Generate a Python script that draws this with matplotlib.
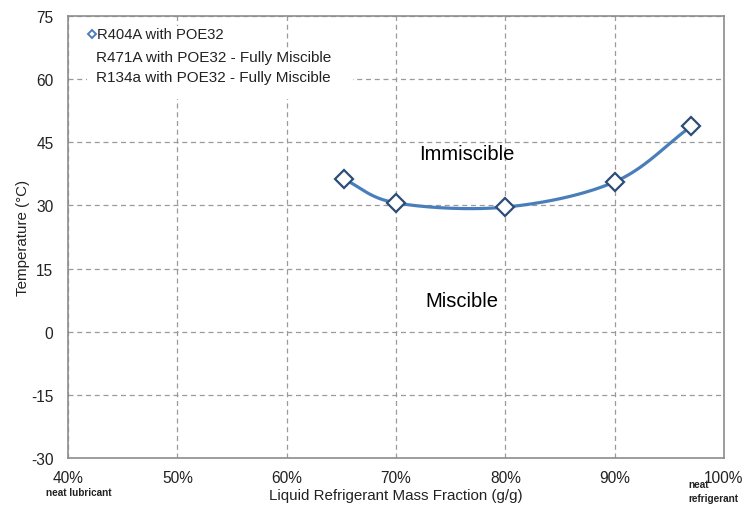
import numpy as np
import matplotlib.pyplot as plt
from matplotlib.patches import Rectangle

plt.rcParams['font.family'] = ['Liberation Sans', 'DejaVu Sans']
plt.rcParams['axes.unicode_minus'] = False

# data
fraction = [0.652, 0.70, 0.80, 0.90, 0.97]
temperature = [36.3, 30.6, 29.6, 35.6, 48.8]
series_name = 'R404A with POE32'
notes = ['R471A with POE32 - Fully Miscible', 'R134a with POE32 - Fully Miscible']
x_ticks = [0.4, 0.5, 0.6, 0.7, 0.8, 0.9, 1.0]
y_ticks = [-30, -15, 0, 15, 30, 45, 60, 75]


def smooth(xs, ys, n=40):
    # Excel-style smoothed line (Catmull-Rom through the points)
    xs = np.asarray(xs, float)
    ys = np.asarray(ys, float)
    px = np.concatenate([[2 * xs[0] - xs[1]], xs, [2 * xs[-1] - xs[-2]]])
    py = np.concatenate([[2 * ys[0] - ys[1]], ys, [2 * ys[-1] - ys[-2]]])
    t = np.linspace(0, 1, n)
    out_x, out_y = [], []
    for i in range(1, len(px) - 2):
        for p, out in ((px, out_x), (py, out_y)):
            p0, p1, p2, p3 = p[i - 1], p[i], p[i + 1], p[i + 2]
            out.extend(0.5 * (2 * p1 + (-p0 + p2) * t
                              + (2 * p0 - 5 * p1 + 4 * p2 - p3) * t ** 2
                              + (-p0 + 3 * p1 - 3 * p2 + p3) * t ** 3))
    return out_x, out_y


fig = plt.figure(figsize=(7.42, 5.06), dpi=100)
ax = fig.add_axes([68 / 742, 47 / 506, 656 / 742, 442 / 506])

sx, sy = smooth(fraction, temperature)
ax.plot(sx, sy, color='#4A7EBB', lw=2.3, zorder=3)
ax.plot(fraction, temperature, ls='none', marker='D', ms=9, mfc='white',
        mec='#2C4D75', mew=1.6, zorder=4)

ax.set_xlim(0.4, 1.0)
ax.set_ylim(-30, 75)
ax.set_xticks(x_ticks)
ax.set_xticklabels([f'{int(round(v * 100))}%' for v in x_ticks])
ax.set_yticks(y_ticks)
ax.grid(True, ls=(0, (4, 3)), color='#9a9a9a', lw=0.9)
ax.set_axisbelow(True)
ax.tick_params(length=0, labelsize=11.2, colors='#222222')
ax.tick_params(axis='x', pad=9)
ax.tick_params(axis='y', pad=10.5)
for s in ax.spines.values():
    s.set_color('#8c8c8c')
    s.set_linewidth(1.2)

ax.set_xlabel('Liquid Refrigerant Mass Fraction (g/g)', fontsize=10.9,
              color='#222222', labelpad=2)
ax.set_ylabel('Temperature (°C)', fontsize=10.9, color='#222222', labelpad=1)

ax.text(0.765, 42.3, 'Immiscible', fontsize=14.5, ha='center', va='center')
ax.text(0.76, 7.5, 'Miscible', fontsize=14.5, ha='center', va='center')

# white boxes behind the legend and the notes
for x0, y0, w, h in [(87, 446, 148, 33), (87, 406, 266, 47)]:
    ax.add_patch(Rectangle((x0 / 742, y0 / 506), w / 742, h / 506,
                           transform=fig.transFigure, facecolor='white',
                           edgecolor='none', zorder=1.5))

ax.plot([0.4221], [70.7], ls='none', marker='D', ms=4.5, mfc='white',
        mec='#4A7EBB', mew=1.4, clip_on=False, zorder=5)
ax.text(0.4265, 70.7, series_name, fontsize=10.6, va='center', color='#222222',
        zorder=5)
ax.text(0.4255, 65.2, notes[0], fontsize=11, va='center', color='#222222',
        zorder=5)
ax.text(0.4255, 60.5, notes[1], fontsize=11, va='center', color='#222222',
        zorder=5)

fig.text(79 / 742, 13 / 506, 'neat lubricant', fontsize=7.2,
         fontweight='bold', ha='center', va='center', color='#222222')
fig.text(688 / 742, 14 / 506, 'neat\nrefrigerant', fontsize=7.2,
         fontweight='bold', ha='left', va='center', linespacing=1.55,
         color='#222222')

fig.savefig('out.png', dpi=100)
